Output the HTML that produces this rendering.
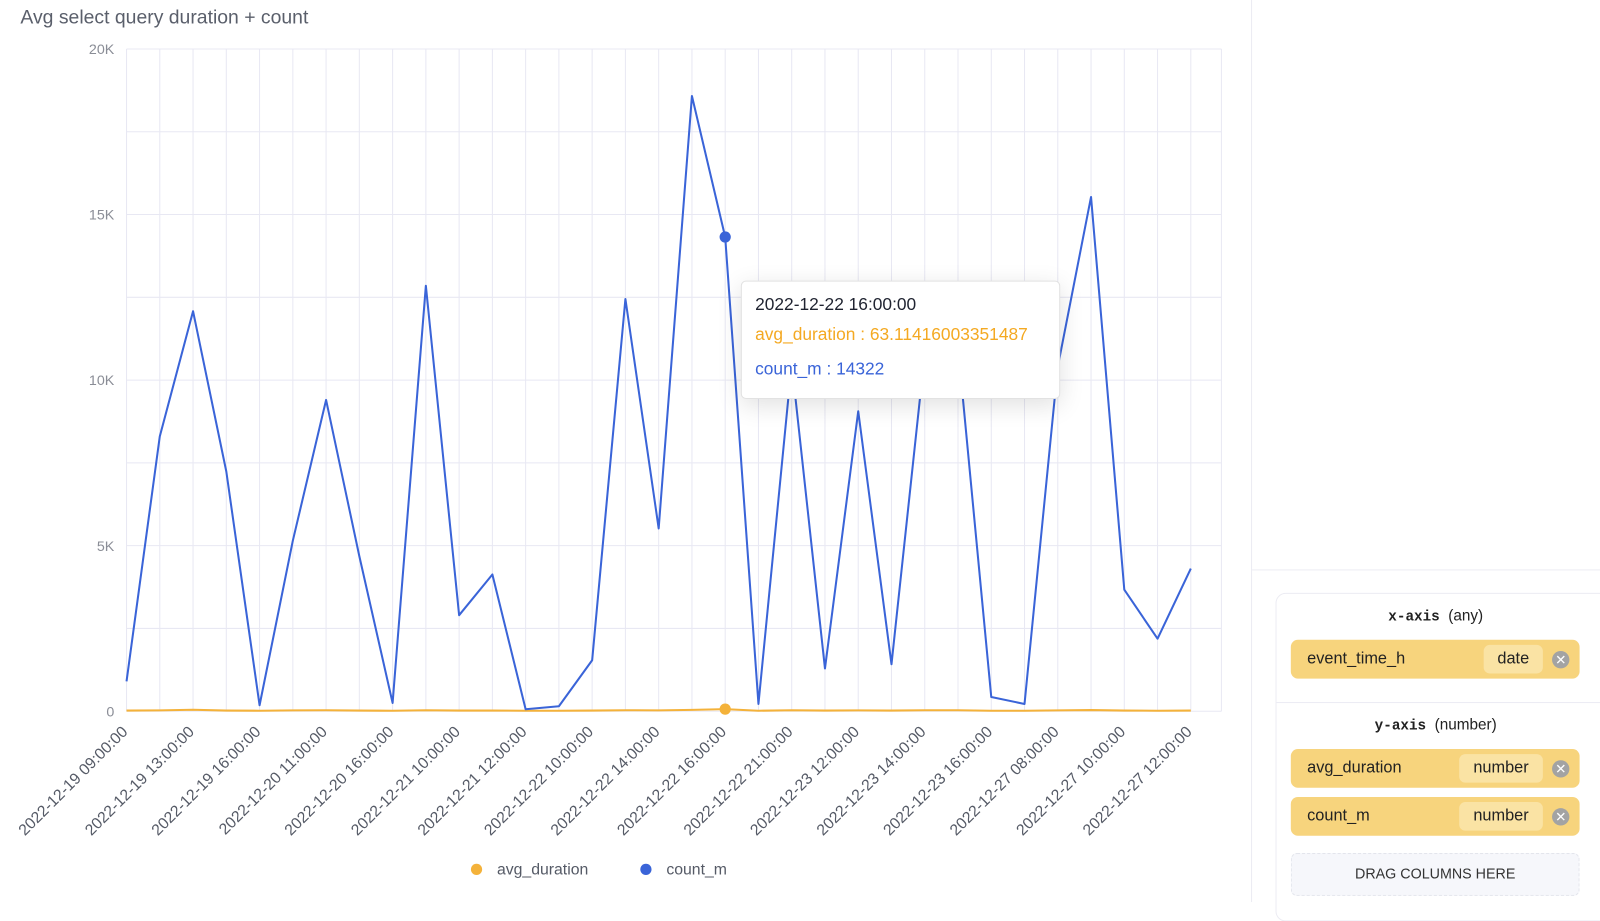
<!DOCTYPE html>
<html><head><meta charset="utf-8">
<style>
html,body{margin:0;padding:0;width:1600px;height:902px;overflow:hidden;background:#fff;font-family:"Liberation Sans",sans-serif;}
#wrap{position:absolute;left:0;top:0;width:1568px;height:884px;transform:scale(1.020408);transform-origin:0 0;}
.title{position:absolute;left:20px;top:7px;font-size:19px;color:#5a5f6b;}
.vdiv{position:absolute;left:1226px;top:0;width:1px;height:884px;background:#ececf3;}
.hdiv{position:absolute;left:1227px;top:558px;width:341px;height:1px;background:#ececf3;}
.card{position:absolute;left:1250px;top:581px;width:330px;height:320px;border:1px solid #ececf3;border-radius:10px;background:#fff;}
.axl{position:absolute;left:1250px;width:314px;text-align:center;font-size:15px;color:#222;}
.axl .m{font-family:"Liberation Mono",monospace;font-weight:bold;font-size:14px;}
.chip{position:absolute;left:1265px;width:283px;height:38px;background:#f7d47d;border-radius:7px;}
.chip .n{position:absolute;left:16px;top:10px;font-size:16px;color:#222;}
.chip .t{position:absolute;top:5px;height:28px;line-height:28px;background:#fae3a4;border-radius:6px;font-size:16px;color:#222;text-align:center;}
.chip .x{position:absolute;left:256px;top:11px;width:17px;height:17px;border-radius:50%;background:#a3a3a3;color:#fff;font-size:13px;line-height:17px;text-align:center;}
.drag{position:absolute;left:1265px;top:836px;width:281px;height:40px;border:1px dashed #e3e5ec;border-radius:6px;background:#f6f7fb;font-size:14px;color:#333;text-align:center;line-height:38px;}
.tip{position:absolute;left:726px;top:275px;width:311px;height:114px;background:#fff;border:1px solid #e2e2e2;border-radius:5px;box-shadow:0 6px 24px rgba(0,0,0,0.12);}
.tip div{position:absolute;left:13px;font-size:17px;}
</style></head><body>
<div id="wrap">
<div class="title">Avg select query duration + count</div>
<svg id="chart" width="1226" height="884" style="position:absolute;left:0;top:0"></svg>
<div class="tip">
<div style="top:13px;color:#1f2330">2022-12-22 16:00:00</div>
<div style="top:42px;color:#f4a922">avg_duration : 63.11416003351487</div>
<div style="top:76px;color:#3a64d8">count_m : 14322</div>
</div>
<div class="vdiv"></div>
<div class="hdiv"></div>
<div class="card"></div>
<div class="axl" style="top:595px"><span class="m">x-axis</span>&nbsp;&nbsp;(any)</div>
<div class="chip" style="top:627px"><span class="n">event_time_h</span><span class="t" style="left:189px;width:58px">date</span><span class="x">✕</span></div>
<div style="position:absolute;left:1251px;top:688px;width:317px;height:1px;background:#ececf3"></div>
<div class="axl" style="top:702px"><span class="m">y-axis</span>&nbsp;&nbsp;(number)</div>
<div class="chip" style="top:734px"><span class="n">avg_duration</span><span class="t" style="left:165px;width:82px">number</span><span class="x">✕</span></div>
<div class="chip" style="top:781px"><span class="n">count_m</span><span class="t" style="left:165px;width:82px">number</span><span class="x">✕</span></div>
<div class="drag">DRAG COLUMNS HERE</div>
</div>
<script>
const categories=["2022-12-19 09:00:00","2022-12-19 11:00:00","2022-12-19 13:00:00","2022-12-19 14:00:00","2022-12-19 16:00:00","2022-12-20 09:00:00","2022-12-20 11:00:00","2022-12-20 14:00:00","2022-12-20 16:00:00","2022-12-21 09:00:00","2022-12-21 10:00:00","2022-12-21 11:00:00","2022-12-21 12:00:00","2022-12-22 09:00:00","2022-12-22 10:00:00","2022-12-22 12:00:00","2022-12-22 14:00:00","2022-12-22 15:00:00","2022-12-22 16:00:00","2022-12-22 18:00:00","2022-12-22 21:00:00","2022-12-23 10:00:00","2022-12-23 12:00:00","2022-12-23 13:00:00","2022-12-23 14:00:00","2022-12-23 15:00:00","2022-12-23 16:00:00","2022-12-27 07:00:00","2022-12-27 08:00:00","2022-12-27 09:00:00","2022-12-27 10:00:00","2022-12-27 11:00:00","2022-12-27 12:00:00"];
const countM=[900,8300,12080,7240,180,5150,9400,4680,250,12850,2900,4130,60,150,1540,12450,5520,18580,14322,220,10500,1290,9060,1420,10800,11000,430,220,10400,15530,3670,2190,4310];
const avgDuration=[20,25,45,20,15,25,30,20,15,30,20,20,15,15,20,30,25,40,63,15,30,20,25,20,30,30,15,15,25,35,20,15,20];
const yTicks=[0,5000,10000,15000,20000];
const yTickLabels=["0","5K","10K","15K","20K"];
const NS="http://www.w3.org/2000/svg";
const svg=document.getElementById('chart');
const L=124,R=1167,T=48,B=697,yMax=20000;
const xs=i=>L+(R-L)*i/(categories.length-1);
const ys=v=>B-(B-T)*v/yMax;
function mk(tag,attrs,parent){const e=document.createElementNS(NS,tag);for(const k in attrs)e.setAttribute(k,attrs[k]);(parent||svg).appendChild(e);return e;}
for(let v=0;v<=yMax;v+=2500){const l=mk('line',{x1:L,x2:1197,y1:ys(v),y2:ys(v),stroke:'#e8e8f3','stroke-width':1});

}
categories.forEach((c,i)=>{const l=mk('line',{x1:xs(i),x2:xs(i),y1:T,y2:B,stroke:'#e8e8f3','stroke-width':1});

});
const rb=mk('line',{x1:1197,x2:1197,y1:T,y2:B,stroke:'#e8e8f3'});


yTicks.forEach((v,i)=>{const t=mk('text',{x:112,y:ys(v)+5,'text-anchor':'end','font-size':14,fill:'#8a8d96'});t.textContent=yTickLabels[i];

});
categories.forEach((c,i)=>{if(i%2)return;const x=xs(i)+2,y=718;const t=mk('text',{x:x,y:y,'text-anchor':'end','font-size':15.5,fill:'#555a66',transform:`rotate(-45 ${x} ${y})`});t.textContent=c;

});
function series(vals,color,name){const p=mk('polyline',{points:vals.map((v,i)=>xs(i)+','+ys(v)).join(' '),fill:'none',stroke:color,'stroke-width':2,'stroke-linejoin':'round'});

}
series(avgDuration,'#f4b23a','avg-duration-line');
series(countM,'#3a64d8','count-m-line');
const hi=18;
const d1=mk('circle',{cx:xs(hi),cy:ys(countM[hi]),r:5.5,fill:'#3a64d8'});


const d2=mk('circle',{cx:xs(hi),cy:ys(avgDuration[hi]),r:5.5,fill:'#f4b23a'});


const legend=[["avg_duration",'#f4b23a',467],["count_m",'#3a64d8',633]];
legend.forEach(([n,c,x])=>{const g=mk('g',{});


mk('circle',{cx:x,cy:852,r:5.5,fill:c},g);const t=mk('text',{x:x+20,y:857,'font-size':15.5,fill:'#555a66'},g);t.textContent=n;});
</script>
</body></html>
